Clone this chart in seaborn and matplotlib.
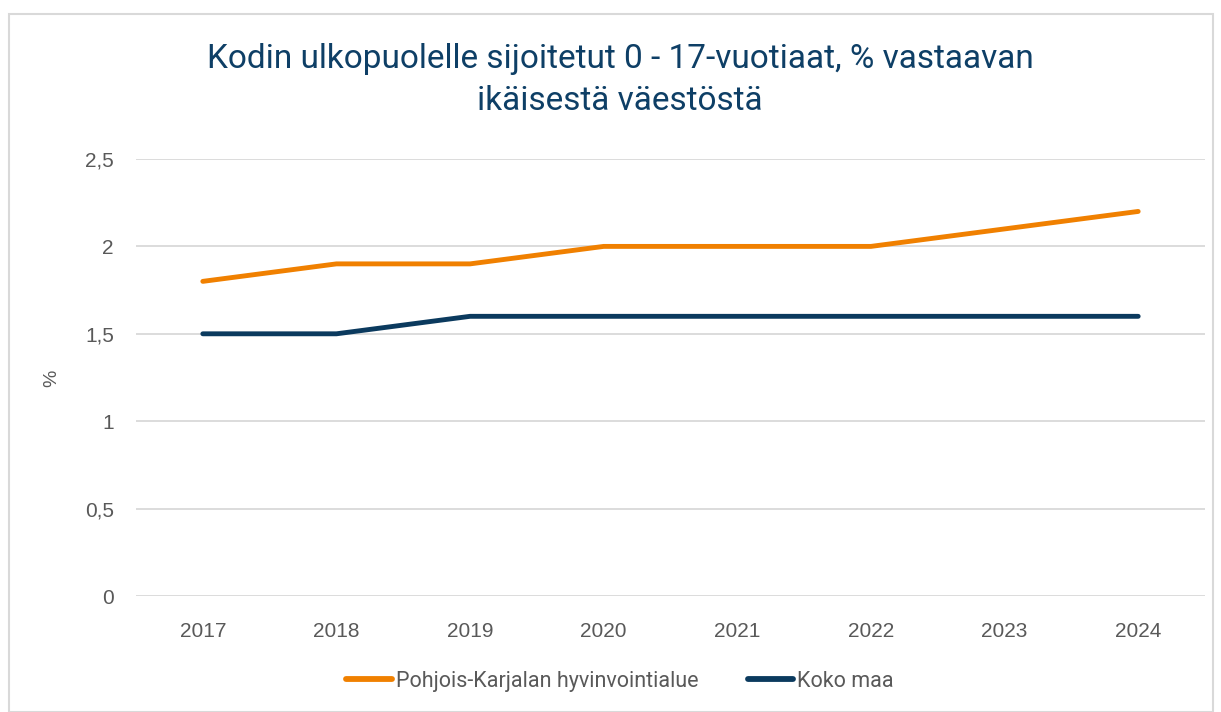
import matplotlib
matplotlib.use("Agg")
import matplotlib.pyplot as plt
from matplotlib.patches import Rectangle
import seaborn as sns
import pandas as pd

years = ["2017", "2018", "2019", "2020", "2021", "2022", "2023", "2024"]
pohjois_karjala = [1.8, 1.9, 1.9, 2.0, 2.0, 2.0, 2.1, 2.2]
koko_maa = [1.5, 1.5, 1.6, 1.6, 1.6, 1.6, 1.6, 1.6]
series_names = ["Pohjois-Karjalan hyvinvointialue", "Koko maa"]
y_ticks = [0, 0.5, 1, 1.5, 2, 2.5]
y_tick_labels = ["0", "0,5", "1", "1,5", "2", "2,5"]
title = "Kodin ulkopuolelle sijoitetut 0 - 17-vuotiaat, % vastaavan\nikäisestä väestöstä"

colors = ["#F08000", "#0B3A5E"]

df = pd.DataFrame({
    "Vuosi": years * 2,
    "Arvo": pohjois_karjala + koko_maa,
    "Sarja": [series_names[0]] * len(years) + [series_names[1]] * len(years),
})

sns.set_theme(style="white")
plt.rcParams["font.family"] = ["Liberation Sans", "DejaVu Sans"]

fig = plt.figure(figsize=(12.21, 7.12), dpi=100)
ax = fig.add_axes([136 / 1221, (712 - 596) / 712, (1205 - 136) / 1221, (596 - 159) / 712])

sns.lineplot(data=df, x="Vuosi", y="Arvo", hue="Sarja", palette=colors,
             linewidth=3.5, sort=False, ax=ax, legend=False,
             solid_capstyle="round")

ax.set_xlim(-0.5, len(years) - 0.5)
ax.set_ylim(0, 2.5)
ax.set_yticks(y_ticks)
ax.set_yticklabels(y_tick_labels)
ax.grid(axis="y", color="#D9D9D9", linewidth=1.3)
ax.set_axisbelow(True)
for s in ax.spines.values():
    s.set_visible(False)
ax.tick_params(axis="both", length=0, labelsize=15, colors="#595959")
ax.tick_params(axis="y", pad=16)
ax.tick_params(axis="x", pad=19)
ax.set_xlabel("")
ax.set_ylabel("%", fontsize=14, color="#595959")
ax.yaxis.set_label_coords((60 - 136) / (1205 - 136), (596 - 378) / (596 - 159))

fig.text(0.508, 0.940, title, ha="center", va="top", fontsize=24,
         color="#0E3F66", family=["Roboto", "DejaVu Sans"], linespacing=1.42)

# legend
handles = [plt.Line2D([], [], color=c, linewidth=4.2, solid_capstyle="round") for c in colors]
leg = fig.legend(handles, series_names, loc="center", bbox_to_anchor=(0.508, 0.043),
                 ncol=2, frameon=False, handlelength=2.1, handletextpad=0.2,
                 columnspacing=2.3, prop={"family": ["Roboto", "DejaVu Sans"], "size": 15.5})
for t in leg.get_texts():
    t.set_color("#595959")

# chart frame
fig.add_artist(Rectangle((9 / 1221, 0), (1213 - 9) / 1221, (712 - 14) / 712,
                         transform=fig.transFigure, fill=False,
                         edgecolor="#D9D9D9", linewidth=1.5))

fig.savefig("out.png", dpi=100, facecolor="white")
